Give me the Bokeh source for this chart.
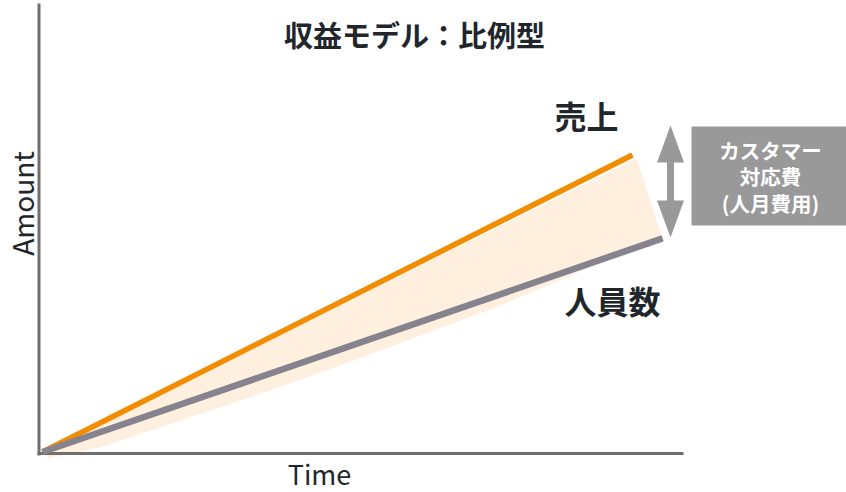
from bokeh.plotting import figure
from bokeh.models import Range1d, Label
from bokeh.embed import file_html
from bokeh.resources import INLINE

# ---- data (illustrative units) ----
rev_time = [0, 100]
revenue = [0, 99]
staff_time = [0, 105.1]
staff = [0, 71.2]

band_upper_time = [0, 100.7]
band_upper = [0, 97.8]
band_lower_time = [105.1, 91.2, 77.6, 64.1, 50.5, 36.9, 23.4, 9.8, 1.0]
band_lower = [71.2, 60.2, 48.8, 38.8, 28.8, 19.4, 10.5, 1.6, -2.2]

title_text = "収益モデル：比例型"
rev_label = "売上"
staff_label = "人員数"
box_lines = ["カスタマー", "対応費", "(人月費用)"]
x_label = "Time"
y_label = "Amount"

# ---- layout scale ----
W, H = 846, 492
X0, Y0 = 42.0, 451.5      # pixel position of origin
SX, SY = 5.9, 3.0         # pixels per unit


def tx(px):
    return (px - X0) / SX


def ay(py):
    return (Y0 - py) / SY


FONT = "Noto Sans CJK JP"
ORANGE = "#F28C00"
GRAYLINE = "#85838D"
PEACH = "#FFEFDF"
AXIS = "#6F6F6F"
BOXGRAY = "#999999"
DARK = "#1F262C"

p = figure(width=W, height=H, output_backend="svg", toolbar_location=None,
           x_axis_location=None, y_axis_location=None,
           x_range=Range1d(tx(0), tx(W)), y_range=Range1d(ay(H), ay(0)),
           min_border=0, outline_line_color=None)
p.grid.visible = False
p.background_fill_color = "white"
p.border_fill_color = "white"

# shaded band
bx = band_upper_time + band_lower_time
by = band_upper + band_lower
p.patch(bx, by, fill_color=PEACH, line_color=None)

# axes
p.segment(x0=[tx(38.5)], y0=[ay(455)], x1=[tx(38.5)], y1=[ay(3)],
          line_color=AXIS, line_width=3)
p.segment(x0=[tx(37)], y0=[ay(453)], x1=[tx(683)], y1=[ay(453)],
          line_color=AXIS, line_width=3)

# lines
p.line(rev_time, revenue, line_color=ORANGE, line_width=5.5, line_cap="butt")
p.line(staff_time, staff, line_color=GRAYLINE, line_width=6.5, line_cap="butt")

# box
p.quad(left=[tx(691)], right=[tx(850)], top=[ay(126)], bottom=[ay(225)],
       fill_color=BOXGRAY, line_color=None)

# double arrow
ax = tx(670)
hw = 13.5 / SX
p.patches(xs=[[ax, ax - hw, ax + hw], [ax, ax - hw, ax + hw]],
          ys=[[ay(125), ay(162), ay(162)], [ay(237), ay(200), ay(200)]],
          fill_color=BOXGRAY, line_color=None)
p.segment(x0=[ax], y0=[ay(160)], x1=[ax], y1=[ay(202)],
          line_color=BOXGRAY, line_width=7)

# texts
def lab(text, x, y, size, bold=True, color=DARK, angle=0.0, align="center",
        font=FONT):
    p.add_layout(Label(x=x, y=H - y, x_units="screen", y_units="screen",
                       text=text, text_font=font,
                       text_font_size=f"{size}px",
                       text_font_style="bold" if bold else "normal",
                       text_color=color, text_align=align,
                       text_baseline="middle", angle=angle))

lab(title_text, 414, 33, 29)
lab(rev_label, 586, 114, 32)
lab(staff_label, 612, 299, 32)
for i, t in enumerate(box_lines):
    lab(t, 770, 149 + i * 26.5, 20.5, color="white")
lab(x_label, 319, 473, 27, bold=False)
lab(y_label, 21, 203, 28, bold=False, angle=1.5707963)

open("out.html", "w").write(file_html(p, INLINE))
